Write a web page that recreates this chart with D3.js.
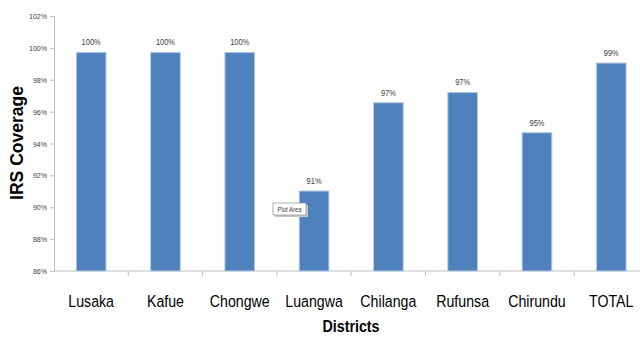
<!DOCTYPE html>
<html><head><meta charset="utf-8">
<script src="https://cdn.jsdelivr.net/npm/d3@7"></script>
<style>body{margin:0;background:#fff}svg{display:block}</style>
</head><body>
<svg id="c" width="640" height="337"></svg>
<script>
const categories = ["Lusaka","Kafue","Chongwe","Luangwa","Chilanga","Rufunsa","Chirundu","TOTAL"];
const values = [99.72, 99.72, 99.72, 91.02, 96.56, 97.21, 94.68, 99.05];
const valueLabels = ["100%","100%","100%","91%","97%","97%","95%","99%"];
const yTicks = [86,88,90,92,94,96,98,100,102];
const xTitle = "Districts";
const yTitle = "IRS Coverage";

const svg = d3.select("#c");
const font = "'Liberation Sans',Arial,sans-serif";
const x = d3.scaleBand().domain(categories).range([54, 648.4]).paddingInner(0.6).paddingOuter(0.3);
const xb = d3.scaleBand().domain(categories).range([54, 648.4]);
const y = d3.scaleLinear().domain([86,102]).range([271,16]);

// y axis
const ya = svg.append("g").attr("transform","translate(54,0)")
  .call(d3.axisLeft(y).tickValues(yTicks).tickSize(4).tickPadding(3).tickFormat(d=>d+"%"));
ya.select(".domain").attr("stroke","#bfbfbf");
ya.selectAll(".tick line").attr("stroke","#bfbfbf");
ya.selectAll("text").attr("font-family",font).attr("font-size",8).attr("fill","#404040")
  .attr("transform","scale(0.88,1)").attr("x",-7*1.136);

// x axis
const xa = svg.append("g").attr("transform","translate(0,271)");
xa.append("line").attr("x1",54).attr("x2",648).attr("stroke","#bfbfbf");
xa.selectAll("line.t").data(categories).join("line").attr("class","t")
  .attr("x1",d=>xb(d)+xb.bandwidth()).attr("x2",d=>xb(d)+xb.bandwidth())
  .attr("y1",0).attr("y2",5).attr("stroke","#bfbfbf");
xa.selectAll("text").data(categories).join("text")
  .attr("transform",d=>`translate(${xb(d)+xb.bandwidth()/2},36) scale(0.86,1)`)
  .attr("text-anchor","middle")
  .attr("font-family",font).attr("font-size",16.5).attr("fill","#000").text(d=>d);

// bars
svg.selectAll("rect.bar").data(categories).join("rect").attr("class","bar")
  .attr("x",d=>x(d)).attr("width",x.bandwidth())
  .attr("y",(d,i)=>y(values[i])).attr("height",(d,i)=>271-y(values[i]))
  .attr("fill","#4f81bd").attr("stroke","#b9cde5").attr("stroke-width",1);

svg.selectAll("text.vl").data(categories).join("text").attr("class","vl")
  .attr("transform",(d,i)=>`translate(${x(d)+x.bandwidth()/2},${y(values[i])-7}) scale(0.88,1)`)
  .attr("text-anchor","middle").attr("font-family",font).attr("font-size",8.5)
  .attr("fill","#404040").text((d,i)=>valueLabels[i]);

// titles
svg.append("text").attr("transform","translate(351,332) scale(0.84,1)").attr("text-anchor","middle")
  .attr("font-family",font).attr("font-weight","bold").attr("font-size",17).text(xTitle);
svg.append("text").attr("transform","translate(23,143) rotate(-90)").attr("text-anchor","middle")
  .attr("font-family",font).attr("font-weight","bold").attr("font-size",17.5).text(yTitle);

// tooltip artifact
const tip = svg.append("g").attr("transform","translate(273,203)");
tip.append("rect").attr("x",2).attr("y",2).attr("width",33).attr("height",12).attr("fill","#c8c8c8");
tip.append("rect").attr("width",33).attr("height",12).attr("fill","#fff").attr("stroke","#8c8c8c").attr("stroke-width",0.7);
tip.append("text").attr("transform","translate(16.5,8.8) scale(0.85,1)").attr("text-anchor","middle")
  .attr("font-family",font).attr("font-size",7).attr("fill","#404040").text("Plot Area");
</script>
</body></html>
